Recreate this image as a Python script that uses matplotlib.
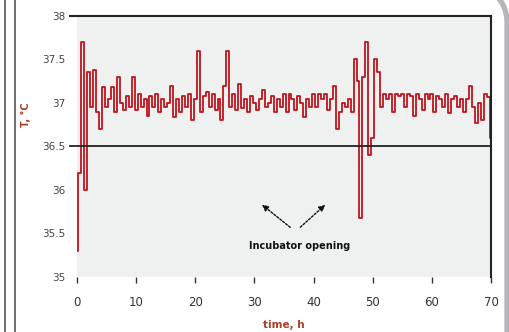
import matplotlib.pyplot as plt
import numpy as np

# body temperature, sampled every 0.5 h from 0 to 70 h
time_h = np.arange(0, 70.01, 0.5)
temp_c = [
    35.3, 36.2, 37.7, 36.0, 37.35, 36.95, 37.38, 36.9, 36.7, 37.18,
    36.95, 37.05, 37.18, 36.9, 37.3, 37.0, 36.92, 37.08, 36.95, 37.3,
    36.92, 37.1, 36.95, 37.05, 36.85, 37.08, 36.95, 37.1, 36.9, 37.05,
    36.95, 37.0, 37.2, 36.84, 37.05, 36.9, 37.08, 36.95, 37.1, 36.8,
    37.05, 37.6, 36.9, 37.08, 37.13, 36.95, 37.1, 36.92, 37.05, 36.8,
    37.2, 37.6, 36.95, 37.1, 36.92, 37.22, 36.94, 37.05, 36.9, 37.08,
    37.0, 36.92, 37.05, 37.15, 36.95, 37.0, 37.08, 36.9, 37.05, 36.95,
    37.1, 36.9, 37.1, 37.05, 36.92, 37.08, 37.0, 36.84, 37.05, 36.95,
    37.1, 36.95, 37.1, 37.05, 37.1, 36.92, 37.05, 37.2, 36.7, 36.9,
    37.0, 36.95, 37.05, 36.9, 37.5, 37.25, 35.68, 37.3, 37.7, 36.4,
    36.6, 37.5, 37.35, 36.95, 37.1, 37.05, 37.1, 36.9, 37.1, 37.08,
    37.1, 36.95, 37.1, 37.08, 36.85, 37.1, 37.05, 36.92, 37.1, 37.05,
    37.1, 36.9, 37.08, 37.05, 36.95, 37.1, 36.88, 37.05, 37.08, 36.95,
    37.05, 36.9, 37.05, 37.2, 36.95, 36.77, 37.0, 36.8, 37.1, 37.07,
    36.6,
]

threshold = 36.5
xticks = [0, 10, 20, 30, 40, 50, 60, 70]
yticks = [35, 35.5, 36, 36.5, 37, 37.5, 38]
ytick_labels = ['35', '35.5', '36', '36.5', '37', '37.5', '38']

brown = '#a8402a'

fig = plt.figure(figsize=(5.1, 3.32), dpi=100)
ax = fig.add_axes([0.151, 0.166, 0.812, 0.786])
ax.set_facecolor('#eff1f1')

ax.plot(time_h, temp_c, color='#c0141e', lw=1.3, drawstyle='steps-mid')

# threshold line and top frame line, both stick out a bit on the left
ax.plot([-0.017, 1], [(threshold - 35) / 3, (threshold - 35) / 3],
        transform=ax.transAxes, color='#222222', lw=1.3, clip_on=False)
ax.plot([-0.017, 1], [1, 1], transform=ax.transAxes,
        color='#222222', lw=1.5, clip_on=False)

ax.set_xlim(0, 70)
ax.set_ylim(35, 38)
for s in ['left', 'bottom', 'top']:
    ax.spines[s].set_visible(False)
ax.spines['right'].set_color('#222222')
ax.spines['right'].set_linewidth(1.5)

ax.set_xticks(xticks)
ax.set_yticks(yticks)
ax.set_yticklabels(ytick_labels)
ax.tick_params(axis='x', length=4, width=1, pad=10, labelsize=8.5,
               colors='#333333')
ax.tick_params(axis='y', length=0, pad=8, labelsize=7.5, colors='#444444')

ax.set_xlabel('time, h', color=brown, fontweight='bold', fontsize=7.5, labelpad=8)
ax.set_ylabel('T, °C', color=brown, fontweight='bold', fontsize=7, labelpad=12)
ax.yaxis.set_label_coords(-0.11, 0.62)

# annotation
ax.text(37.7, 35.36, 'Incubator opening', fontsize=7, fontweight='bold',
        ha='center', va='center', color='#111111')
arrow = dict(arrowstyle='-|>', linestyle=(0, (1.5, 1.2)), lw=1,
             color='#111111', mutation_scale=9)
ax.annotate('', xy=(30.9, 35.85), xytext=(36.4, 35.55), arrowprops=arrow)
ax.annotate('', xy=(42.3, 35.85), xytext=(37.4, 35.55), arrowprops=arrow)

# page decorations: double rule on the left, rounded grey frame on the right
W, H = 510, 332
for xp in [5, 15]:
    fig.add_artist(plt.Line2D([xp / W, xp / W], [0, 1], color='#555555',
                              lw=1.2, transform=fig.transFigure))
theta = np.linspace(0, np.pi / 2, 40)
cx, cy, r = 469, 22, 38
fx = np.concatenate([cx + r * np.cos(theta[::-1]), [507]])
fy = np.concatenate([cy - r * np.sin(theta[::-1]), [H]])
fig.add_artist(plt.Line2D(fx / W, 1 - fy / H, color='#b6b6ba', lw=3.8,
                          transform=fig.transFigure))

fig.savefig('out.png', dpi=100)
